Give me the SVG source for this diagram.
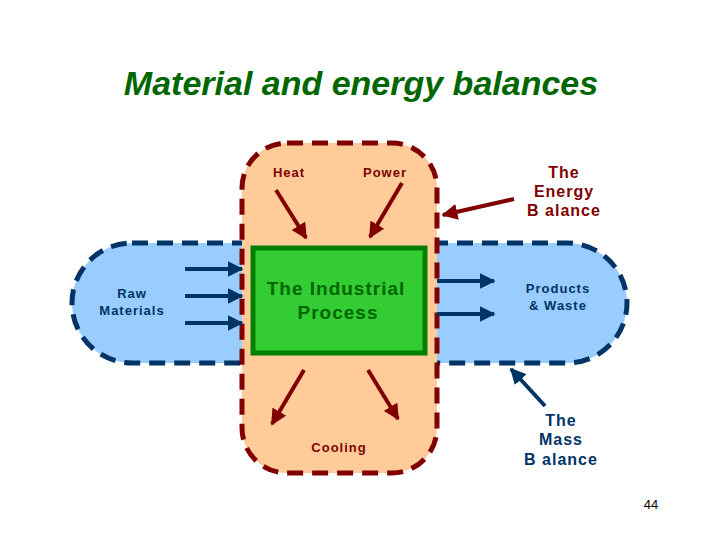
<svg xmlns="http://www.w3.org/2000/svg" width="720" height="540" viewBox="0 0 720 540">
<style>
text{font-family:"Liberation Sans",Arial,sans-serif;font-weight:bold;text-anchor:middle}
.r{fill:#800000;font-size:13px;letter-spacing:1px}
.n{fill:#003366;font-size:13px;letter-spacing:1px}
.big{font-size:16px}
.ra{stroke:#800000;stroke-width:4;fill:none}
.na{stroke:#003366;stroke-width:4;fill:none}
</style>
<defs>
<marker id="mr" viewBox="0 0 10 10" refX="9" refY="5" markerWidth="4" markerHeight="4" orient="auto"><path d="M0,0L10,5L0,10z" fill="#800000"/></marker>
<marker id="mn" viewBox="0 0 10 10" refX="9" refY="5" markerWidth="4" markerHeight="4" orient="auto"><path d="M0,0L10,5L0,10z" fill="#003366"/></marker>
</defs>
<rect width="720" height="540" fill="#fff"/>
<text x="361" y="95" style="font-size:34px;font-style:italic;fill:#006600">Material and energy balances</text>
<g id="mass"><rect x="72" y="243" width="555" height="120" rx="60" fill="#99ccff" stroke="#003366" stroke-width="5" stroke-dasharray="16,9"/></g>
<g id="energy"><rect x="242" y="143" width="195" height="330" rx="45" fill="#ffcc99" stroke="#800000" stroke-width="5" stroke-dasharray="16,9"/></g>
<g id="process"><rect x="253" y="248" width="172" height="105" fill="#33cc33" stroke="#008000" stroke-width="5"/>
<text x="336" y="295" style="font-size:19px;fill:#006600;letter-spacing:1px">The Industrial</text>
<text x="338" y="319" style="font-size:19px;fill:#006600;letter-spacing:1px">Process</text></g>
<g id="connectors">
<line class="na" x1="185" y1="269" x2="242" y2="269" marker-end="url(#mn)"/>
<line class="na" x1="185" y1="296" x2="242" y2="296" marker-end="url(#mn)"/>
<line class="na" x1="185" y1="323" x2="242" y2="323" marker-end="url(#mn)"/>
<line class="na" x1="437" y1="281" x2="494" y2="281" marker-end="url(#mn)"/>
<line class="na" x1="437" y1="314" x2="494" y2="314" marker-end="url(#mn)"/>
<line class="ra" x1="276" y1="190" x2="306" y2="238" marker-end="url(#mr)"/>
<line class="ra" x1="402" y1="183" x2="370" y2="237" marker-end="url(#mr)"/>
<line class="ra" x1="304" y1="370" x2="272" y2="424" marker-end="url(#mr)"/>
<line class="ra" x1="368" y1="370" x2="398" y2="419" marker-end="url(#mr)"/>
<line class="ra" x1="514" y1="199" x2="443" y2="215" marker-end="url(#mr)"/>
<line class="na" x1="545" y1="406" x2="511" y2="369" marker-end="url(#mn)"/>
</g>
<g id="labels">
<text class="r" x="289" y="177">Heat</text>
<text class="r" x="385" y="177">Power</text>
<text class="r" x="339" y="452">Cooling</text>
<text class="n" x="132" y="298">Raw</text>
<text class="n" x="132" y="315">Materials</text>
<text class="n" x="558" y="293">Products</text>
<text class="n" x="558" y="310">&amp; Waste</text>
<text class="r big" x="564" y="178">The</text>
<text class="r big" x="564" y="197">Energy</text>
<text class="r big" x="564" y="216">B alance</text>
<text class="n big" x="561" y="426">The</text>
<text class="n big" x="561" y="445">Mass</text>
<text class="n big" x="561" y="465">B alance</text>
<text x="651" y="509" style="font-weight:normal;font-size:13px;fill:#000">44</text>
</g>
</svg>
